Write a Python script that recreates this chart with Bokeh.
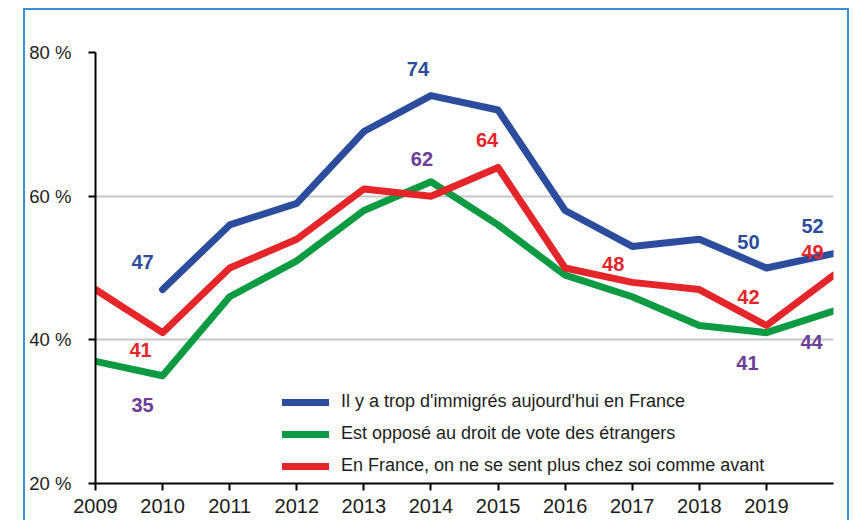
import numpy as np
from bokeh.plotting import figure
from bokeh.models import (FixedTicker, PrintfTickFormatter, Legend, LegendItem,
                          ColumnDataSource, Range1d)
from bokeh.core.properties import value
from bokeh.embed import file_html
from bokeh.resources import INLINE

# ---------------- data ----------------
years = [2009, 2010, 2011, 2012, 2013, 2014, 2015, 2016, 2017, 2018, 2019, 2020]
year_ticks = [2009, 2010, 2011, 2012, 2013, 2014, 2015, 2016, 2017, 2018, 2019]
pct_ticks = [20, 40, 60, 80]

immigres = [np.nan, 47, 56, 59, 69, 74, 72, 58, 53, 54, 50, 52]
vote_etrangers = [37, 35, 46, 51, 58, 62, 56, 49, 46, 42, 41, 44]
chez_soi = [47, 41, 50, 54, 61, 60, 64, 50, 48, 47, 42, 49]

series_names = [
    "Il y a trop d'immigrés aujourd'hui en France",
    "Est opposé au droit de vote des étrangers",
    "En France, on ne se sent plus chez soi comme avant",
]

# years whose value is printed next to the line
immigres_labelled = [2010, 2014, 2019, 2020]
vote_labelled = [2010, 2014, 2019, 2020]
chez_soi_labelled = [2010, 2015, 2017, 2019, 2020]

# ---------------- style ----------------
BLUE = "#2c4d9d"
GREEN = "#0c9a42"
RED = "#e4252a"
PURPLE = "#6b3d99"
TXT = "#1d1d1b"
FRAME = "#3b8fd2"
FONT = "Liberation Sans"

# pixel offsets of the value labels (x, y; y positive = down)
immigres_off = [(-20, -28), (-13, -27), (-18, -26), (-21, -28)]
vote_off = [(-20, 29), (-9, -23), (-19, 30), (-22, 31)]
chez_soi_off = [(-22, 17), (-11, -27), (-19, -18), (-18, -28), (-21, -23)]

p = figure(width=826, height=512, x_range=Range1d(2009, 2020), y_range=Range1d(20, 80),
           output_backend="svg", toolbar_location=None,
           min_border_left=70, min_border_right=18, min_border_top=42, min_border_bottom=39)
# light blue frame around the whole chart
p.styles = {"margin-left": "23px", "margin-top": "8px",
            "border-left": f"2px solid {FRAME}", "border-top": f"2px solid {FRAME}",
            "border-right": f"2px solid {FRAME}"}
p.outline_line_color = None
p.background_fill_color = "white"
p.border_fill_color = "white"

# axes
for ax in (p.xaxis[0], p.yaxis[0]):
    ax.axis_line_color = "black"
    ax.axis_line_width = 2
    ax.major_tick_line_color = "black"
    ax.major_tick_line_width = 2
    ax.major_tick_in = 0
    ax.major_tick_out = 7
    ax.minor_tick_line_color = None
    ax.major_label_text_color = TXT
    ax.major_label_text_font = FONT

p.xaxis.ticker = FixedTicker(ticks=year_ticks)
p.xaxis.major_label_text_font_size = "20px"
p.xaxis.major_label_standoff = 8

p.yaxis.ticker = FixedTicker(ticks=pct_ticks)
p.yaxis.formatter = PrintfTickFormatter(format="%d %%")
p.yaxis.major_label_text_font_size = "18.5px"
p.yaxis.major_label_standoff = 17

p.xgrid.visible = False
p.ygrid.ticker = FixedTicker(ticks=pct_ticks[1:])
p.ygrid.grid_line_color = "#c6c6c6"
p.ygrid.grid_line_width = 2

# lines
renderers = []
for vals, col in ((immigres, BLUE), (vote_etrangers, GREEN), (chez_soi, RED)):
    r = p.line(years, vals, line_color=col, line_width=7, line_cap="round", line_join="round")
    renderers.append(r)

# value labels
lx, ly, lt, ldx, ldy, lc = [], [], [], [], [], []
for vals, lab_years, offs, col in ((immigres, immigres_labelled, immigres_off, BLUE),
                                   (vote_etrangers, vote_labelled, vote_off, PURPLE),
                                   (chez_soi, chez_soi_labelled, chez_soi_off, RED)):
    for yr, (dx, dy) in zip(lab_years, offs):
        v = vals[years.index(yr)]
        lx.append(yr); ly.append(v); lt.append(str(int(v)))
        ldx.append(dx); ldy.append(dy); lc.append(col)
src = ColumnDataSource(dict(x=lx, y=ly, text=lt, dx=ldx, dy=ldy, color=lc))
p.text(x="x", y="y", text="text", x_offset="dx", y_offset="dy", text_color="color",
       source=src, text_font=value(FONT), text_font_style="bold", text_font_size="20px",
       text_align="center", text_baseline="middle")

# legend
legend = Legend(items=[LegendItem(label=n, renderers=[r]) for n, r in zip(series_names, renderers)],
                location=(187, 7), padding=0, margin=0, spacing=11,
                glyph_width=47, glyph_height=20, label_height=20, label_standoff=12,
                label_text_font=FONT, label_text_font_size="18px", label_text_color=TXT,
                border_line_color=None, background_fill_alpha=0)
p.add_layout(legend)

open("out.html", "w").write(file_html(p, INLINE))
